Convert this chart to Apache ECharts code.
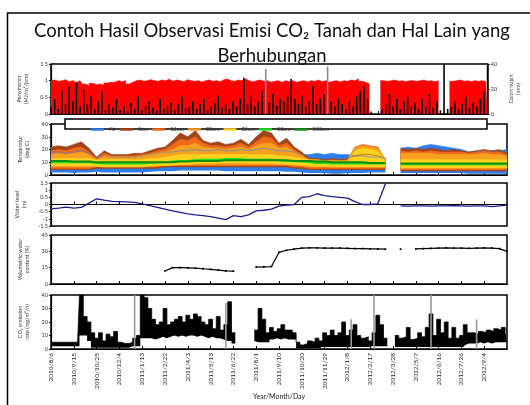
<!DOCTYPE html>
<html><head><meta charset="utf-8">
<script src="https://cdn.jsdelivr.net/npm/echarts/dist/echarts.min.js"></script>
<style>html,body{margin:0;padding:0;background:#fff}#c{width:530px;height:405px}</style>
</head><body><div id="c"></div>
<script>
// ---------------- DATA ----------------
const titleLine1 = 'Contoh Hasil Observasi Emisi CO\u2082 Tanah dan Hal Lain yang';
const titleLine2 = 'Berhubungan';
const tickLabels = ['2010/8/6','2010/9/15','2010/10/25','2010/12/4','2011/1/13','2011/2/22','2011/4/3','2011/5/13','2011/6/22','2011/8/1','2011/9/10','2011/10/20','2011/11/29','2012/1/8','2012/2/17','2012/3/28','2012/5/7','2012/6/16','2012/7/26','2012/9/4'];
const legendNames = ['Air','5cm','10cm','20cm','30cm','50cm','100cm'];

// panel 1 (fine resolution, 121 steps)
const radiation = [1.0,1.02,0.98,1.0,1.03,0.97,1.0,0.95,1.0,
 0.9,0.85,0.92,0.88,0.9,0.86,0.93,0.95,
 0.95,1.0,0.97,1.0,0.9,0.95,1.0,1.02,0.98,1.0,1.03,1.0,0.98,1.02,
 1.0,1.04,0.98,1.02,1.0,0.97,1.03,1.0,0.98,1.0,0.96,1.0,1.02,0.98,1.0,0.97,1.03,1.05,1.0,0.98,1.02,1.0,1.05,1.0,0.96,1.0,1.02,0.98,1.0,0.95,
 0.98,1.0,0.95,1.0,0.97,1.0,0.95,0.98,1.0,0.96,1.0,0.98,1.02,0.97,1.0,0.95,0.98,1.0,0.96,1.0,0.98,1.02,1.0,1.05,0.98,0.95,0.9,
 null,null,null,
 1.0,0.98,1.0,1.02,0.98,1.0,0.97,1.0,1.0,0.98,1.0,1.02,0.98,1.0,0.97,1.0,
 null,null,null,
 0.98,1.0,1.02,0.98,1.0,0.97,1.0,0.98,1.0,0.97,0.95];
const rain = [6,12,4,18,8,22,10,25,6,20,
 8,14,4,10,18,3,8,5,12,3,
 6,2,9,4,14,3,7,10,5,3,
 12,4,6,9,3,8,14,5,6,10,
 4,8,12,3,6,9,15,5,8,4,
 10,6,12,29,8,14,6,10,18,null,
 9,16,7,12,10,14,28,12,8,15,
 6,10,22,8,12,16,null,10,6,12,
 8,4,10,6,14,18,22,12,2,0,
 0,4,8,16,6,12,4,10,14,6,
 9,4,12,6,16,5,10,3,40,4,
 6,10,4,8,14,5,9,6,12,18,40];
const rainGrey = {59:36, 76:38};

// panel 2 (61 steps)
const airMin = [2,2,2,1.5,2,2,2.5,2,2,2, 2,2,2,2.5,3,3,3,3.5,3.5,3.5, 3.5,3.5,3.5,3,3,3,3,3,3,3, 3,2.5,2.5,2,1.5,1.5,1.5,1,1,1.5, 1.5,1.5,2,2,2, null, 1.5,1.5,1.5,1.5,1.5,1.5,1.5,1.5,1.5,1,1,1,1,1,1];
const airMax = [18,18,17,18,19,17,14,15,14,14, 14,14,15,16,17,18,18,19,19,20, 19,19,20,19,19,20,19,20,21,20, 19,19,18,16,16,17,16,17,16,16, 15,15,14,14,13, null, 21,22,21,23,24,23,22,21,20,18,19,18,19,19,20];
const t5Min = [4,4,4,4,4,4,5,5,5,5, 5,5,5,5,5,6,6,6,6,6, 6,6,6,6,6,6,6,6,6,6, 6,6,5,5,4,4,4,4,4,4, 4,4,4,4,4, null, 3,3,3,3,3,3,3,3,3,3,3,3,3,3,3];
const t5Max = [22,23,22,24,26,21,14,19,16,16, 16,17,17,19,21,22,27,33,30,35, 27,25,26,24,25,28,24,30,35,33, 25,29,22,18,13,13,12,13,12,13, 15,16,16,15,13, null, 21,20,21,20,21,20,19,20,19,18,19,20,19,20,17];
const t10Min = [5,5,5,5,5,5,6,6,6,6, 6,6,6,6,6,7,7,7,7,7, 7,7,7,7,7,7,7,7,7,7, 7,7,6,6,5,5,5,5,5,5, 5,5,5,5,5, null, 4,4,4,4,4,4,4,4,4,4,4,4,4,4,4];
const t10Max = [19,20,19,21,22,18,13,17,15,15, 15,15,16,17,19,20,24,28,27,30, 25,23,23,22,23,25,22,26,30,29, 23,25,20,16,12,12,11,12,11,12, 22,24,23,22,12, null, 19,18,19,18,19,18,18,18,18,17,18,19,18,18,16];
const t20Min = [6,6,6,6,6,6,7,7,7,7, 7,7,7,7,7,8,8,8,8,8, 8,8,8,8,8,8,8,8,8,8, 8,8,7,7,6,6,6,6,6,6, 6,6,6,6,6, null, 5,5,5,5,5,5,5,5,5,5,5,5,5,5,5];
const t20Max = [16,17,16,17,18,16,12,15,14,14, 14,14,15,16,17,18,20,23,23,25, 22,21,21,20,21,22,20,23,25,25, 21,22,18,15,12,11,11,11,11,11, 21,23,22,21,12, null, 17,17,17,17,17,16,16,16,16,16,16,17,16,16,15];
const t30Min = [7,7,7,7,7,7,6.5,6,6,6, 6,6,6,6.5,7,7,7.5,8,8,8.5, 9,9,9,9.5,9.5,9.5,9,9,9,9, 8.5,8,8,7.5,7,6.5,6.5,6,6,6, 6,6,6,6,6, null, 5.5,5.5,5.5,5.5,5.5,5.5,5.5,5.5,5.5,5.5,5.5,5.5,5.5,5.5,5.5];
const t30Max = [13,13,13,13,13,13,12,12,12,12, 12,12,12,13,13,14,15,16,16,16, 16,16,16,16,16,16,16,16,16,16, 15,15,14,13,12,12,11,11,11,11, 19,21,20,19,11, null, 12,12,12,12,12,12,12,12,12,12,12,12,12,12,12];
const t50 = [10,10,10,10,10,10,9.5,9,9,9, 9,9,9,9.5,10,10,10.5,11,11,11.5, 12,12,12,12.5,12.5,12.5,12,12,12,12, 11.5,11,11,10.5,10,9.5,9.5,9,9,9, 9,9,9,9,9, null, 8.5,8.5,8.5,8.5,8.5,8.5,8.5,8.5,8.5,8.5,8.5,8.5,8.5,8.5,8.5];
const t100 = [11,11,11,10.5,10.5,10.5,10,10,10,10, 10,10,10,10,10,10,10,10.5,10.5,11, 11,11,11,11.5,11.5,11.5,11.5,11.5,11.5,11.5, 11.5,11.5,11,11,11,10.5,10.5,10,10,10, 10,10,9.5,9.5,9.5, null, 9,9,9,9,9,9,9,9,9,9,9,9,9,9,9];

// panel 3 water level (m)
const waterLevel = [-0.3,-0.25,-0.18,-0.25,-0.2,0.1,0.4,0.3,0.22,0.2, 0.18,0.15,0.05,-0.08,-0.2,-0.33,-0.45,-0.55,-0.65,-0.72, -0.78,-0.85,-0.95,-1.05,-0.78,-0.85,-0.72,-0.45,-0.4,-0.32, -0.12,-0.05,0.0,0.5,0.55,0.75,0.62,0.55,0.5,0.45, 0.2,0.0,0.0,0.05,1.45, null, -0.1,-0.12,-0.1,-0.1,-0.12,-0.1,-0.1,-0.08,-0.1,-0.12,-0.1,-0.1,-0.15,-0.1,-0.05];

// panel 4 volumetric water content (%)
const vwc = [null,null,null,null,null,null,null,null,null,null,null,null,null,null,null,
 12,15,15,14.8,14.5,14,13.5,12.8,12,11.8,
 null,null,
 15.5,15.8,16,29,31,32,
 33,33.2,33.2,33,33,33,32.8,32.5,32.5,32.3,32.2,32,
 null,32,null,
 32.2,32.5,32.8,33,33.2,33,33,32.8,33,33.2,33,32.5,30];

// panel 5 CO2 emission (fine resolution)
const co2High = [5,5,5,5,5,5,5,5,40,24, 20,12,8,12,6,11,9,13,5,4, 4,5,8,10,40,38,30,22,18,20, 30,18,20,22,24,20,25,22,26,24, 20,18,22,15,24,14,18,35,12,null, null,null,null,null,14,30,22,12,16,13, 15,18,14,14,12,5,3,4,6,5, 8,6,12,10,14,10,12,20,10,14, 18,10,8,9,6,12,25,18,8,null, null,10,8,9,16,7,8,12,9,16, 26,10,22,12,20,8,16,8,10,18, 12,12,11,13,12,14,13,15,14,16,14];
const co2Low = [2,2,2,2,2,2,2,2,10,10, 6,1,1,1,1,1,1,1,1,1, 1,1,2,2,8,8,8,8,7,8, 9,8,9,10,9,10,9,10,10,9, 10,9,8,9,8,8,7,6,4,null, null,null,null,null,6,5,5,5,7,7, 8,7,8,7,7,0.5,0.5,0.5,0.5,0.5, 0.5,0.5,1.5,1.5,1.5,1.5,1.5,1.5,1.5,1.5, 1.5,1.5,1.5,1.5,1.5,2,2,2,2,null, null,1.5,1.5,1.5,1.5,1.5,1.5,1.5,1.5,1.5, 1.5,1.5,1.5,1.5,1.5,1.5,1.5,1.5,1.5,3, 4,4,4,5,4,5,4,5,5,5,5];
const co2Grey = {22:40, 46:34, 79:22, 85:40, 100:40, 112:22};

// ---------------- BUILD ----------------
const N1 = radiation.length, N2 = waterLevel.length;
const cats1 = Array.from({length:N1}, (_, i) => 'a' + i);
const cats2 = Array.from({length:N2}, (_, i) => 'b' + i);
const sparse = (obj, n) => Array.from({length:n}, (_, i) => obj[i] != null ? obj[i] : null);
const diff = (hi, lo) => hi.map((v, k) => (v == null || lo[k] == null) ? null : +(v - lo[k]).toFixed(3));

const F = 'Lato';
const BLK = '#000';
const tickEvery = (step, n) => (idx) => idx % step === 0 && idx < n - 1;

function xAx(grid, cats, step, showLabels, extra) {
  return Object.assign({
    type:'category', gridIndex:grid, data:cats, boundaryGap:false,
    axisLine:{show:true, onZero:true, lineStyle:{color:BLK, width:1.2}},
    axisTick:{show:true, inside:true, length:3, interval:tickEvery(step, cats.length), lineStyle:{color:BLK, width:1}},
    axisLabel:{show:showLabels, interval:tickEvery(step, cats.length), rotate:90, fontSize:6.5, fontFamily:F, color:'#222', margin:4,
      formatter:(v, idx) => tickLabels[idx / step] || ''},
    splitLine:{show:false}
  }, extra || {});
}
function yAx(grid, min, max, interval, name, extra) {
  return Object.assign({
    type:'value', gridIndex:grid, min, max, interval, name,
    nameLocation:'middle', nameGap:19, nameRotate:90,
    nameTextStyle:{fontSize:5.5, fontFamily:F, color:'#333', lineHeight:7},
    axisLine:{show:true, lineStyle:{color:BLK, width:1.2}},
    axisTick:{show:true, length:2, lineStyle:{color:BLK}},
    axisLabel:{fontSize:5.5, fontFamily:F, color:'#333', margin:3},
    splitLine:{show:false}
  }, extra || {});
}
const gridBase = {left:51, right:23, show:true, borderColor:BLK, borderWidth:1.5, backgroundColor:'rgba(0,0,0,0)'};

const series = [];
// panel 1
series.push({type:'line', step:'middle', xAxisIndex:0, yAxisIndex:0, data:radiation, symbol:'none', z:1, lineStyle:{width:0.6, color:'#ff0000'}, areaStyle:{color:'#ff0000', opacity:1}, silent:true});
series.push({type:'bar', xAxisIndex:1, yAxisIndex:1, stack:'rain', data:rain, barWidth:1.6, z:5, itemStyle:{color:'#000'}, silent:true});
series.push({type:'bar', xAxisIndex:1, yAxisIndex:1, stack:'rain', data:sparse(rainGrey, N1), barWidth:1.6, z:5, itemStyle:{color:'#8a8a8a'}, silent:true});

// panel 2 bands
function band(name, lo, hi, color) {
  series.push({type:'line', xAxisIndex:2, yAxisIndex:2, stack:name, data:lo, symbol:'none', lineStyle:{opacity:0, width:0}, silent:true});
  series.push({type:'line', name, xAxisIndex:2, yAxisIndex:2, stack:name, data:diff(hi, lo), symbol:'none',
    lineStyle:{width:0.6, color}, areaStyle:{color, opacity:1}, itemStyle:{color}, silent:true});
}
band('Air', airMin, airMax, '#2f7de8');
band('5cm', t5Min, t5Max, '#a2441a');
band('10cm', t10Min, t10Max, '#f06a1c');
band('20cm', t20Min, t20Max, '#f7a21e');
band('30cm', t30Min, t30Max, '#fcd21f');
series.push({type:'line', name:'50cm', xAxisIndex:2, yAxisIndex:2, data:t50, symbol:'none', lineStyle:{width:2, color:'#1fe01f'}, itemStyle:{color:'#1fe01f'}, silent:true});
series.push({type:'line', name:'100cm', xAxisIndex:2, yAxisIndex:2, data:t100, symbol:'none', lineStyle:{width:2, color:'#138c13'}, itemStyle:{color:'#138c13'}, silent:true});

// panel 3
series.push({type:'line', xAxisIndex:3, yAxisIndex:3, data:waterLevel, symbol:'none', lineStyle:{width:1.3, color:'#1c1c8a'}, silent:true});
// panel 4
series.push({type:'line', xAxisIndex:4, yAxisIndex:4, data:vwc, symbol:'rect', symbolSize:1.8, showSymbol:true, itemStyle:{color:'#000'}, lineStyle:{width:1.2, color:'#000'}, silent:true});
// panel 5
series.push({type:'line', step:'middle', xAxisIndex:5, yAxisIndex:5, stack:'co2', data:co2Low, symbol:'none', lineStyle:{opacity:0, width:0}, silent:true});
series.push({type:'line', step:'middle', xAxisIndex:5, yAxisIndex:5, stack:'co2', data:diff(co2High, co2Low), symbol:'none', lineStyle:{width:0.8, color:'#000'}, areaStyle:{color:'#000', opacity:1}, silent:true});
series.push({type:'bar', xAxisIndex:6, yAxisIndex:5, data:sparse(co2Grey, N1), barWidth:1.6, z:5, itemStyle:{color:'#9a9a9a'}, silent:true});

const option = {
  animation:false,
  backgroundColor:'#fff',
  textStyle:{fontFamily:F},
  grid:[
    Object.assign({top:64, height:50}, gridBase),
    Object.assign({top:124, height:51}, gridBase),
    Object.assign({top:183, height:43}, gridBase),
    Object.assign({top:235, height:49}, gridBase),
    Object.assign({top:295, height:54}, gridBase)
  ],
  xAxis:[
    xAx(0, cats1, 6, false),
    xAx(0, cats1, 6, false, {show:false}),
    xAx(1, cats2, 3, false),
    xAx(2, cats2, 3, false),
    xAx(3, cats2, 3, false),
    xAx(4, cats1, 6, true, {name:'Year/Month/Day', nameLocation:'middle', nameGap:44, nameTextStyle:{fontSize:7, fontFamily:F, color:'#222'}}),
    xAx(4, cats1, 6, false, {show:false})
  ],
  yAxis:[
    yAx(0, 0, 1.5, 0.5, 'Penyinaran\n(MJ/m\u00b2/jam)'),
    yAx(0, 0, 40, 20, 'Curah hujan\n(mm)', {position:'right', nameGap:14}),
    yAx(1, 0, 40, 10, 'Temperatur\n(deg C)'),
    yAx(2, -1.5, 1.5, 0.5, 'Water level\n(m)'),
    yAx(3, 0, 45, 15, 'Volumetric water\ncontent (%)'),
    yAx(4, 0, 40, 10, 'CO\u2082 emission\nrate (mg/m\u00b2/h)')
  ],
  legend:{
    data:legendNames, left:86, top:121.5, z:20, icon:'rect', itemWidth:13, itemHeight:2.5, itemGap:4,
    textStyle:{fontSize:5.5, fontFamily:F, color:'#333', width:32}, selectedMode:false
  },
  graphic:[
    {type:'rect', z:-10, silent:true, shape:{x:7.5, y:13, width:600, height:500}, style:{fill:'none', stroke:'#000', lineWidth:1.5}},
    {type:'rect', z:15, silent:true, shape:{x:65, y:119, width:422, height:10}, style:{fill:'#fff', stroke:'#000', lineWidth:1.5}},
    {type:'text', z:20, silent:true, style:{text:titleLine1, x:272, y:31, font:'18.5px Lato', fill:'#111', textAlign:'center', textVerticalAlign:'middle', align:'center', verticalAlign:'middle'}},
    {type:'text', z:20, silent:true, style:{text:titleLine2, x:272, y:56, font:'18.5px Lato', fill:'#111', textAlign:'center', textVerticalAlign:'middle', align:'center', verticalAlign:'middle'}}
  ],
  series
};
const chart = echarts.init(document.getElementById('c'));
chart.setOption(option);
</script>
</body></html>
